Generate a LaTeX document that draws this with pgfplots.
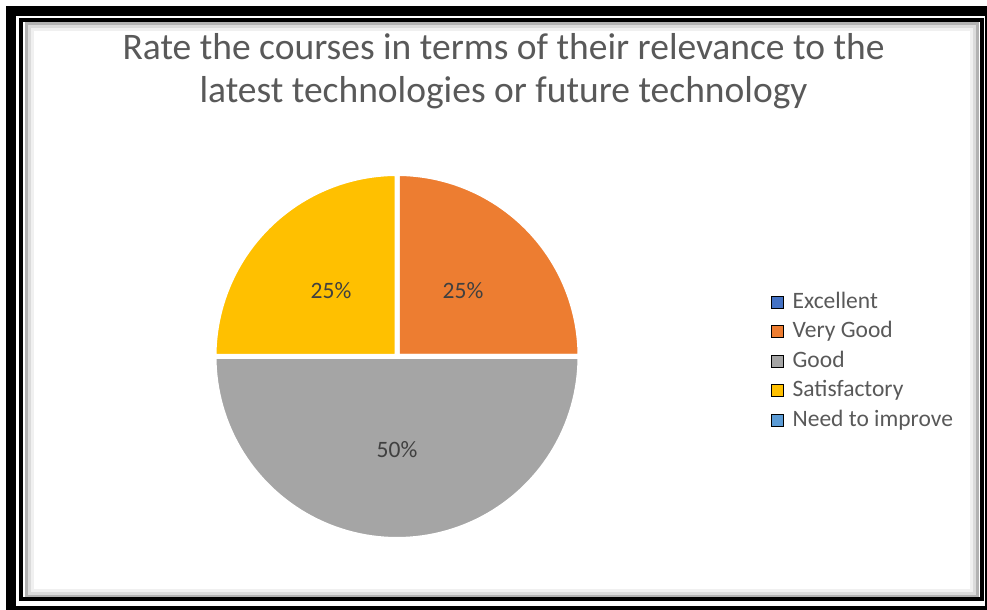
\documentclass[border=0pt]{standalone}
\usepackage{fontspec}
\setmainfont{Carlito}
\usepackage{pgfplots}
\usepackage{pgfplotstable}
\pgfplotsset{compat=1.18}

\definecolor{pie0}{HTML}{4472C4}
\definecolor{pie1}{HTML}{ED7D31}
\definecolor{pie2}{HTML}{A5A5A5}
\definecolor{pie3}{HTML}{FFC000}
\definecolor{pie4}{HTML}{5B9BD5}
\definecolor{titlegray}{HTML}{595959}
\definecolor{labelgray}{HTML}{404040}

\newcommand\titlefont{\fontsize{37.5bp}{44bp}\selectfont}
\newcommand\labfont{\fontsize{23.5bp}{28bp}\selectfont}

% share of answers, per cent
\pgfplotstableread{
label value
Excellent 0
{Very Good} 25
Good 50
Satisfactory 25
{Need to improve} 0
}\piedata

\begin{document}
\begin{tikzpicture}
\useasboundingbox (0bp,0bp) rectangle (987bp,610bp);
\fill[white] (0bp,0bp) rectangle (987bp,610bp);

% screenshot frame
\draw[line width=10.5bp] (11bp,-1bp) rectangle (990bp,599.2bp);
\draw[black!30, line width=3bp] (26bp,13.5bp) rectangle (977bp,586bp);
\draw[black!14, line width=3bp] (29bp,16.5bp) rectangle (974bp,583bp);
\draw[black!6, line width=3bp] (32bp,19.5bp) rectangle (971bp,580bp);
\draw[line width=4bp] (20.5bp,10.5bp) rectangle (981.5bp,589.5bp);

% title
\node[anchor=base, font=\titlefont, text=titlegray, inner sep=0] at (503.5bp,550bp) {Rate the courses in terms of their relevance to the};
\node[anchor=base, font=\titlefont, text=titlegray, inner sep=0] at (503.5bp,507bp) {latest technologies or future technology};

\begin{axis}[
  at={(397bp,253.5bp)}, anchor=origin,
  x=183bp, y=183bp,
  xmin=-1, xmax=1, ymin=-1, ymax=1,
  hide axis, clip=false,
  legend image code/.code={\fill[#1] (0bp,-5.5bp) rectangle (12bp,6.5bp);},
  legend cell align=left,
  legend style={
    at={(1.522,0.487)}, anchor=west,
    draw=none, fill=none, inner sep=0pt,
    font=\labfont, text=titlegray,
    row sep=7.5bp, column sep=9bp,
    nodes={inner sep=0pt, text height=17bp, text depth=5bp},
  },
]
\pgfmathsetmacro{\startangle}{90}
\pgfplotsforeachungrouped \i in {0,...,4}{%
  \pgfplotstablegetelem{\i}{value}\of\piedata
  \pgfmathsetmacro{\val}{\pgfplotsretval}
  \pgfmathtruncatemacro{\ival}{\val}
  \pgfmathsetmacro{\endangle}{\startangle-3.6*\val}
  \pgfmathsetmacro{\midangle}{(\startangle+\endangle)/2}
  \pgfmathsetmacro{\lx}{0.51*cos(\midangle)}
  \pgfmathsetmacro{\ly}{0.51*sin(\midangle)}
  \ifdim\val pt>0pt
    \edef\slice{\noexpand\addplot[fill=pie\i, draw=white, line width=5bp,
      line join=round, domain=\endangle:\startangle, samples=91,
      variable=\noexpand\t, forget plot]
      ({cos(\noexpand\t)},{sin(\noexpand\t)}) -- (axis cs:0,0) -- cycle;}
    \slice
    \edef\lab{\noexpand\node[font=\noexpand\labfont, text=labelgray]
      at (axis cs:\lx,\ly) {\ival\noexpand\%};}
    \lab
  \fi
  \global\let\startangle\endangle
}
\addlegendimage{fill=pie0}
\addlegendimage{fill=pie1}
\addlegendimage{fill=pie2}
\addlegendimage{fill=pie3}
\addlegendimage{fill=pie4}
\legend{Excellent, Very Good, Good, Satisfactory, Need to improve}
\end{axis}
\end{tikzpicture}
\end{document}
